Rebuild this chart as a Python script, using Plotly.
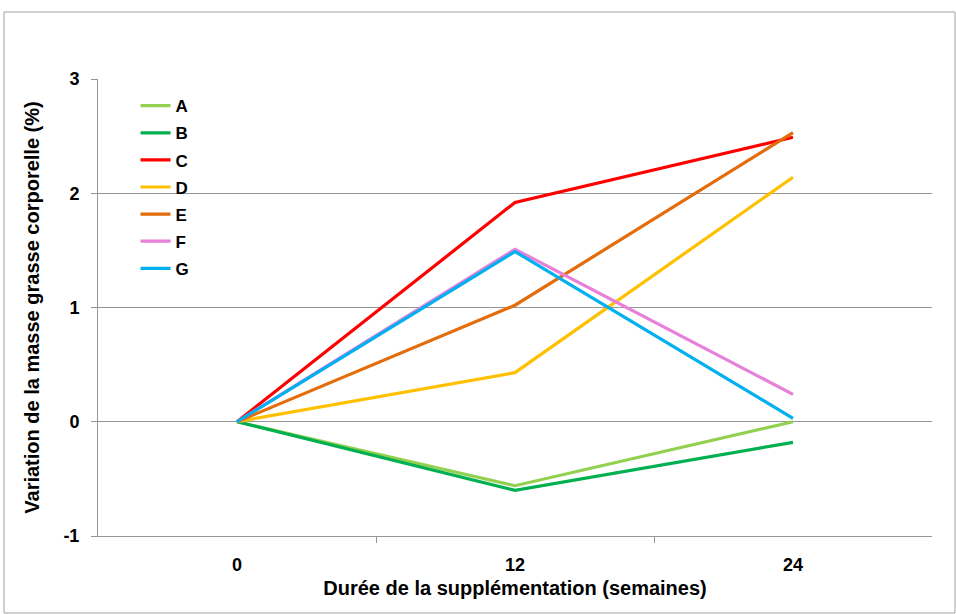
import plotly.graph_objects as go

weeks = [0, 12, 24]
series_names = ["A", "B", "C", "D", "E", "F", "G"]
A = [0, -0.56, 0.0]
B = [0, -0.60, -0.18]
C = [0, 1.92, 2.49]
D = [0, 0.43, 2.14]
E = [0, 1.02, 2.53]
F = [0, 1.51, 0.24]
G = [0, 1.49, 0.03]
series_values = [A, B, C, D, E, F, G]
colors = ["#92d050", "#00b050", "#ff0000", "#ffc000", "#e46c0a", "#e87fd8", "#00b0f0"]
y_ticks = [-1, 0, 1, 2, 3]

fig = go.Figure()
for name, vals, col in zip(series_names, series_values, colors):
    fig.add_trace(go.Scatter(x=weeks, y=vals, name=name, mode="lines",
                             line=dict(color=col, width=3.2), legendgroup=name))

font_fam = "Liberation Sans, Arial, sans-serif"
fig.update_layout(
    width=956, height=614,
    margin=dict(l=98, r=24, t=79, b=78),
    paper_bgcolor="white", plot_bgcolor="white",
    font=dict(family=font_fam, color="black"),
    showlegend=True,
    legend=dict(x=0.045, y=0.98, xanchor="left", yanchor="top",
                font=dict(size=17, family=font_fam, color="black", weight="bold"),
                tracegroupgap=2, bgcolor="rgba(0,0,0,0)", itemwidth=30),
    xaxis=dict(range=[-6, 30], tickvals=weeks, ticktext=[str(w) for w in weeks],
               showgrid=False, zeroline=False, showline=True, linecolor="#969696", linewidth=1,
               ticks="", tickfont=dict(size=18, weight="bold"), ticklabelstandoff=12,
               minor=dict(tickvals=[6, 18], ticks="outside", ticklen=6, tickcolor="#969696"),
               title=dict(text="Durée de la supplémentation (semaines)",
                          font=dict(size=20, weight="bold"), standoff=7)),
    yaxis=dict(range=[-1, 3], tickvals=y_ticks, ticktext=[str(v) for v in y_ticks],
               showgrid=True, gridcolor="#969696", gridwidth=1, zeroline=False,
               showline=True, linecolor="#969696", linewidth=1,
               ticks="outside", ticklen=6, tickcolor="#969696",
               tickfont=dict(size=18, weight="bold"), ticklabelstandoff=8,
               title=dict(text="Variation de la masse grasse corporelle (%)",
                          font=dict(size=20, weight="bold"), standoff=18)),
    shapes=[dict(type="rect", xref="paper", yref="paper",
                 x0=-0.1127, x1=1.0276, y0=-0.1685, y1=1.1466,
                 line=dict(color="#a0a0a0", width=1), layer="below")],
)

fig.write_html("out.html", config={"displayModeBar": False},
               post_script="document.body.style.margin='0';")
